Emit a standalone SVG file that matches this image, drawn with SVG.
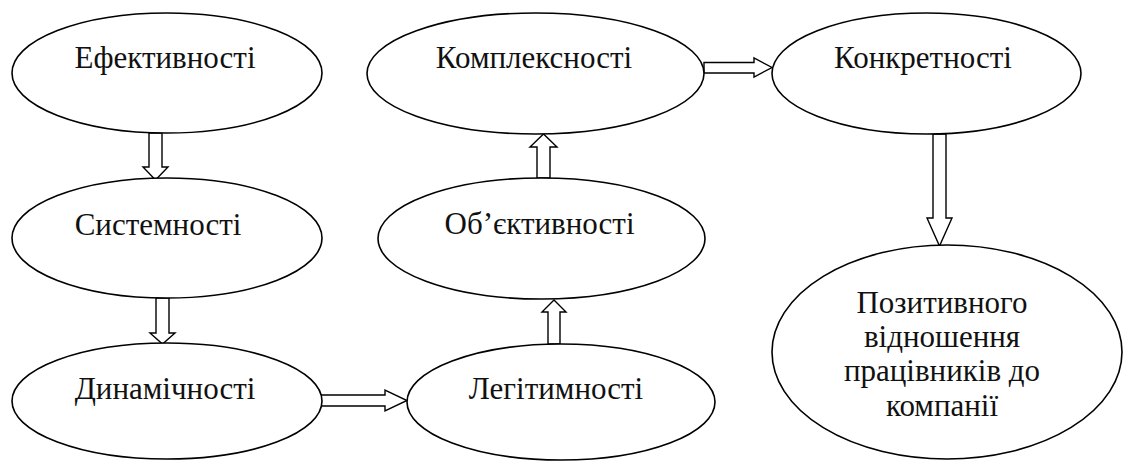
<svg xmlns="http://www.w3.org/2000/svg" width="1124" height="461" viewBox="0 0 1124 461">
<style>
.n ellipse{fill:#fff;stroke:#000;stroke-width:1.6}
.n text{font-family:"Times New Roman","Liberation Serif","Noto Serif","DejaVu Serif",FreeSerif,Tinos,"Nimbus Roman","PT Serif",Georgia,serif;font-size:31px;fill:#111;text-anchor:middle}
#connectors polygon{fill:#fff;stroke:#000;stroke-width:1.4;stroke-linejoin:miter}
</style>
<rect width="1124" height="461" fill="#fff"/>
<g id="connectors">
<polygon points="149,133 162,133 162,167 168,167 155.5,180 143,167 149,167"/>
<polygon points="156,298 169,298 169,333 175,333 162.5,344 150,333 156,333"/>
<polygon points="321,395 385,395 385,390 407,400.5 385,411 385,406 321,406"/>
<polygon points="548,344 560,344 560,312 566,312 554,300 542,312 548,312"/>
<polygon points="537,178 550,178 550,147 557,147 543.5,134 530,147 537,147"/>
<polygon points="704,62.5 754,62.5 754,58 772,67.5 754,77 754,73 704,73"/>
<polygon points="933,134 946,134 946,218 952,218 939.5,246 927,218 933,218"/>
</g>
<g id="n1" class="n"><ellipse cx="167" cy="73" rx="155" ry="60"/><text x="165" y="68">Ефективності</text></g>
<g id="n2" class="n"><ellipse cx="167" cy="238" rx="155" ry="60"/><text x="158" y="235">Системності</text></g>
<g id="n3" class="n"><ellipse cx="167" cy="401" rx="155" ry="58"/><text x="165" y="399">Динамічності</text></g>
<g id="n4" class="n"><ellipse cx="561" cy="402" rx="154" ry="58"/><text x="556" y="399">Легітимності</text></g>
<g id="n5" class="n"><ellipse cx="541.5" cy="238.5" rx="163.5" ry="60.5"/><text x="539.5" y="234">Об’єктивності</text></g>
<g id="n6" class="n"><ellipse cx="535.5" cy="73.5" rx="168.5" ry="60.5"/><text x="534" y="68">Комплексності</text></g>
<g id="n7" class="n"><ellipse cx="926.5" cy="73.5" rx="154.5" ry="60.5"/><text x="923" y="68">Конкретності</text></g>
<g id="n8" class="n"><ellipse cx="947" cy="352" rx="175" ry="107"/><text x="942" y="313">Позитивного</text><text x="942" y="347">відношення</text><text x="942" y="381">працівників до</text><text x="942" y="416">компанії</text></g>
</svg>
